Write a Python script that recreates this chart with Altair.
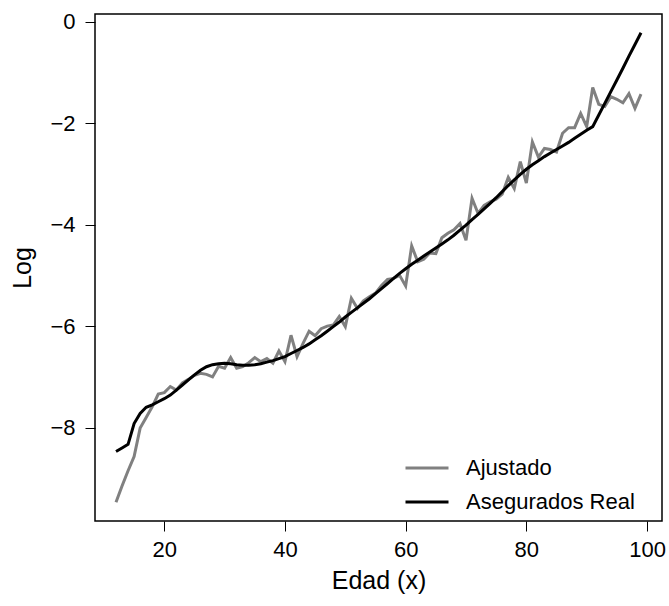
import altair as alt
import pandas as pd

ages = list(range(12, 100))

ajustado = [
    -9.47, -9.15, -8.85, -8.57, -8.01, -7.80, -7.59, -7.34, -7.31, -7.19,
    -7.26, -7.12, -7.05, -6.97, -6.93, -6.95, -7.00, -6.79, -6.83, -6.62,
    -6.83, -6.80, -6.72, -6.62, -6.70, -6.64, -6.73, -6.49, -6.70, -6.18,
    -6.60, -6.34, -6.10, -6.19, -6.05, -6.00, -5.98, -5.81, -6.01, -5.45,
    -5.65, -5.50, -5.42, -5.35, -5.20, -5.08, -5.06, -5.00, -5.21, -4.42,
    -4.73, -4.68, -4.56, -4.57, -4.26, -4.17, -4.10, -3.98, -4.31, -3.48,
    -3.78, -3.62, -3.55, -3.50, -3.40, -3.07, -3.29, -2.76, -3.18, -2.37,
    -2.67, -2.50, -2.52, -2.57, -2.20, -2.09, -2.09, -1.81, -2.07, -1.30,
    -1.63, -1.67, -1.48, -1.53, -1.60, -1.42, -1.71, -1.43,
]

asegurados = [
    -8.47, -8.40, -8.33, -7.92, -7.72, -7.60, -7.55, -7.49, -7.43, -7.36,
    -7.26, -7.16, -7.06, -6.96, -6.87, -6.80, -6.76, -6.74, -6.73, -6.74,
    -6.76, -6.77, -6.77, -6.76, -6.74, -6.71, -6.68, -6.64, -6.60, -6.54,
    -6.48, -6.42, -6.35, -6.27, -6.19, -6.10, -6.01, -5.92, -5.82, -5.73,
    -5.64, -5.55, -5.46, -5.36, -5.26, -5.16, -5.06, -4.96, -4.87, -4.78,
    -4.70, -4.62, -4.54, -4.46, -4.38, -4.30, -4.21, -4.11, -4.01, -3.90,
    -3.80, -3.69, -3.58, -3.47, -3.35, -3.23, -3.12, -3.01, -2.91, -2.82,
    -2.74, -2.66, -2.59, -2.52, -2.45, -2.38, -2.30, -2.22, -2.14, -2.07,
    -1.84, -1.61, -1.38, -1.15, -0.92, -0.68, -0.45, -0.22,
]

series_names = ["Ajustado", "Asegurados Real"]
series_colors = ["#808080", "#000000"]
x_ticks = [20, 40, 60, 80, 100]
y_ticks = [0, -2, -4, -6, -8]

df = pd.concat([
    pd.DataFrame({"Edad": ages, "Log": ajustado, "Serie": series_names[0]}),
    pd.DataFrame({"Edad": ages, "Log": asegurados, "Serie": series_names[1]}),
])

FONT = "Liberation Sans"

chart = alt.Chart(df).mark_line(strokeWidth=3).encode(
    x=alt.X("Edad:Q", title="Edad (x)",
            scale=alt.Scale(domain=[8.52, 102.48], nice=False, zero=False),
            axis=alt.Axis(values=x_ticks, grid=False, domain=False, tickSize=10,
                          tickColor="#000000", labelFontSize=22, labelPadding=8,
                          labelColor="#000000", titleFontSize=25, titlePadding=8,
                          titleColor="#000000", titleFontWeight="normal",
                          labelFont=FONT, titleFont=FONT)),
    y=alt.Y("Log:Q", title="Log",
            scale=alt.Scale(domain=[-9.84, 0.15], nice=False, zero=False),
            axis=alt.Axis(values=y_ticks, grid=False, domain=False, tickSize=10,
                          tickColor="#000000", labelFontSize=22, labelPadding=10,
                          labelColor="#000000", titleFontSize=25, titlePadding=14,
                          titleColor="#000000", titleFontWeight="normal",
                          labelFont=FONT, titleFont=FONT)),
    color=alt.Color("Serie:N",
                    scale=alt.Scale(domain=series_names, range=series_colors),
                    legend=alt.Legend(title=None, orient="none", legendX=309,
                                      legendY=431, symbolType="stroke",
                                      symbolSize=1849, symbolStrokeWidth=3,
                                      labelFontSize=22, labelFont=FONT,
                                      labelColor="#000000", labelOffset=16,
                                      labelLimit=400, rowPadding=-8)),
    detail="Serie:N",
).properties(
    width=567, height=507,
    padding={"left": 95, "top": 14, "right": 7, "bottom": 85},
    autosize=alt.AutoSizeParams(type="none"),
).configure_view(stroke="#000000", strokeWidth=1.5)

chart.save("out.html", embed_options={"renderer": "svg", "actions": False})
